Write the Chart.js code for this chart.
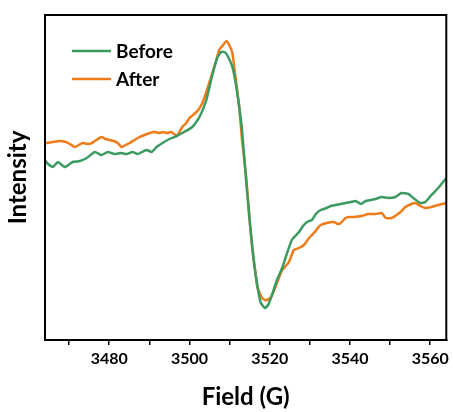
<!DOCTYPE html>
<html>
<head>
<meta charset="utf-8">
<script src="https://cdn.jsdelivr.net/npm/chart.js@4.4.1/dist/chart.umd.min.js"></script>
<style>
  html, body { margin: 0; padding: 0; background: #fff; }
  #wrap { width: 453px; height: 412px; position: relative; }
</style>
</head>
<body>
<div id="wrap"><canvas id="epr"></canvas></div>
<script>
// EPR spectra, field in G, intensity in arbitrary units
const fieldBefore = [3464.0,3464.5,3466.0,3467.2,3469.0,3470.9,3472.7,3474.4,3476.4,3478.1,3479.6,3481.4,3482.9,3484.3,3485.8,3487.1,3489.3,3490.6,3491.8,3493.3,3495.0,3496.8,3498.2,3500.7,3502.5,3504.2,3505.7,3506.9,3507.9,3508.7,3509.4,3510.7,3511.6,3512.4,3513.1,3514.1,3515.1,3516.1,3517.1,3517.8,3518.8,3519.6,3520.3,3521.8,3523.1,3524.0,3525.5,3527.3,3528.3,3529.3,3530.5,3531.5,3532.7,3534.2,3535.2,3536.5,3537.7,3538.9,3540.2,3541.4,3542.7,3543.9,3545.1,3546.4,3547.9,3549.6,3551.3,3552.8,3554.6,3555.8,3557.5,3558.8,3560.3,3562.0,3564.0];
const intensityBefore = [20,17,13,18,13,18,19,22,28,25,28,26,27,26,28,26,30,28,33,37,41,44,47,53,63,80,105,122,128,128,125,113,95,73,50,0,-45,-83,-110,-123,-128,-125,-118,-100,-88,-77,-60,-52,-46,-42,-40,-34,-30,-28,-26,-25,-24,-23,-22,-21,-24,-21,-20,-19,-17,-18,-17,-13,-14,-18,-23,-22,-15,-8,2];

const fieldAfter = [3464.0,3464.5,3466.0,3467.7,3469.2,3470.2,3471.4,3472.4,3473.4,3474.7,3475.7,3476.4,3478.1,3479.1,3480.1,3481.1,3482.1,3483.1,3484.1,3485.1,3486.3,3487.6,3488.8,3490.1,3491.3,3492.5,3493.3,3494.5,3495.5,3496.8,3497.5,3498.2,3499.2,3500.0,3501.2,3502.2,3503.2,3504.2,3505.7,3506.7,3507.4,3508.4,3509.2,3509.9,3510.7,3511.4,3512.4,3513.1,3514.1,3514.9,3515.6,3516.4,3516.9,3517.7,3518.1,3518.8,3519.3,3520.1,3520.6,3521.8,3523.1,3524.0,3524.8,3526.0,3527.3,3528.5,3529.8,3531.0,3532.0,3532.7,3534.2,3536.0,3537.0,3537.7,3538.9,3539.9,3540.9,3542.9,3544.6,3546.4,3547.9,3548.9,3550.4,3551.6,3552.6,3553.8,3555.3,3556.3,3557.5,3558.8,3560.3,3562.0,3564.0];
const intensityAfter = [37,37,38,39,38,36,33,35,37,36,37,39,43,41,40,39,37,33,35,37,40,43,45,47,48,47,48,47,48,44,48,53,57,62,66,70,77,88,107,120,130,135,139,135,127,105,73,40,5,-35,-67,-92,-107,-115,-118,-120,-120,-118,-115,-103,-90,-86,-82,-70,-68,-65,-58,-53,-48,-45,-43,-42,-44,-43,-38,-37,-37,-36,-34,-34,-33,-38,-38,-35,-32,-27,-24,-23,-26,-28,-27,-25,-23];

const seriesLabels = ["Before", "After"];
const fieldTicks = [3470, 3480, 3490, 3500, 3510, 3520, 3530, 3540, 3550, 3560];
const labeledTicks = [3480, 3500, 3520, 3540, 3560];

const FONT = "Lato, 'Open Sans', sans-serif";
const GREEN = "#3b9a60";
const ORANGE = "#ef7b19";

const toPoints = (xs, ys) => xs.map((x, i) => ({ x, y: ys[i] }));

// box around the plot + legend inside top-left corner
const frameAndLegend = {
  id: "frameAndLegend",
  afterDraw(chart) {
    const { ctx, chartArea: a } = chart;
    ctx.save();
    ctx.strokeStyle = "#000";
    ctx.lineWidth = 2;
    ctx.strokeRect(a.left, a.top, a.right - a.left, a.bottom - a.top);

    ctx.font = "bold 19px " + FONT;
    ctx.textBaseline = "middle";
    chart.data.datasets.forEach((ds, i) => {
      const y = a.top + 36 + i * 28;
      ctx.strokeStyle = ds.borderColor;
      ctx.lineWidth = 2.5;
      ctx.beginPath();
      ctx.moveTo(a.left + 27, y);
      ctx.lineTo(a.left + 66, y);
      ctx.stroke();
      ctx.fillStyle = "#000";
      ctx.fillText(ds.label, a.left + 71, y + 1);
    });
    ctx.restore();
  },
};

new Chart(document.getElementById("epr"), {
  type: "line",
  data: {
    datasets: [
      {
        label: seriesLabels[0],
        data: toPoints(fieldBefore, intensityBefore),
        borderColor: GREEN,
        borderWidth: 2.5,
        pointRadius: 0,
        tension: 0.15,
      },
      {
        label: seriesLabels[1],
        data: toPoints(fieldAfter, intensityAfter),
        borderColor: ORANGE,
        borderWidth: 2.5,
        pointRadius: 0,
        tension: 0.15,
      },
    ],
  },
  options: {
    responsive: true,
    maintainAspectRatio: false,
    animation: false,
    layout: { padding: { top: 15, right: 5, left: 0, bottom: 0 } },
    plugins: {
      legend: { display: false },
      tooltip: { enabled: false },
    },
    scales: {
      x: {
        type: "linear",
        min: 3464,
        max: 3564,
        afterBuildTicks: (scale) => {
          scale.ticks = fieldTicks.map((v) => ({ value: v }));
        },
        afterFit: (scale) => {
          scale.height = 72;
        },
        ticks: {
          color: "#000",
          font: { family: FONT, size: 16, weight: "bold" },
          padding: 4,
          maxRotation: 0,
          autoSkip: false,
          callback: (v) => (labeledTicks.includes(v) ? String(v) : ""),
        },
        grid: {
          drawOnChartArea: false,
          drawTicks: true,
          tickLength: 5,
          color: "#000",
          lineWidth: 1.5,
        },
        border: { display: true, color: "#000", width: 2 },
        title: {
          display: true,
          text: "Field (G)",
          color: "#000",
          font: { family: FONT, size: 24, weight: "bold" },
          padding: { top: 0, bottom: 0 },
        },
      },
      y: {
        min: -160,
        max: 165,
        afterFit: (scale) => {
          scale.width = 45;
        },
        ticks: { display: false },
        grid: { display: false },
        border: { display: true, color: "#000", width: 2 },
        title: {
          display: true,
          text: "Intensity",
          color: "#000",
          font: { family: FONT, size: 24, weight: "bold" },
          padding: { top: 4, bottom: 0 },
        },
      },
    },
  },
  plugins: [frameAndLegend],
});
</script>
</body>
</html>
